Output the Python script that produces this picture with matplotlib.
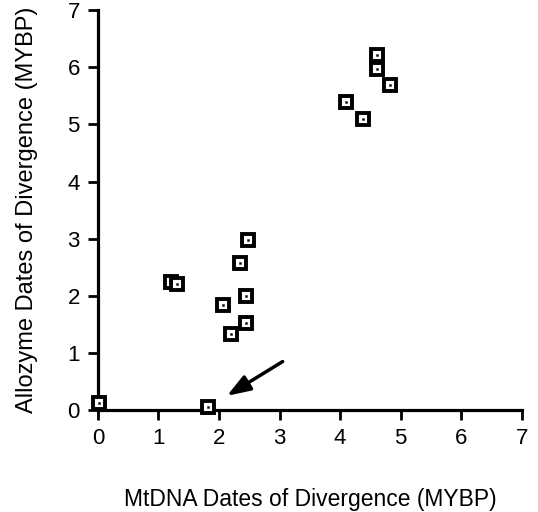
import matplotlib
matplotlib.use("Agg")
import matplotlib.pyplot as plt

plt.rcParams['font.family'] = ['Liberation Sans', 'DejaVu Sans']

mtdna = [0.02, 1.81, 1.21, 1.31, 2.06, 2.19, 2.34, 2.44, 2.45, 2.48, 4.10, 4.38, 4.61, 4.60, 4.83]
allozyme = [0.12, 0.06, 2.24, 2.21, 1.84, 1.34, 2.57, 2.00, 1.53, 2.97, 5.39, 5.10, 6.22, 5.97, 5.69]
ticks = [0, 1, 2, 3, 4, 5, 6, 7]
arrow_tail = (3.05, 0.85)
arrow_head = (2.13, 0.25)

fig = plt.figure(figsize=(5.38, 5.12), dpi=100)
ax = fig.add_axes([0.182, 0.199, 0.788, 0.781])

ax.plot(mtdna, allozyme, linestyle='none', marker='s', markersize=8,
        markerfacecolor='white', markeredgecolor='black', markeredgewidth=2.8,
        clip_on=False, zorder=3)
ax.plot(mtdna, allozyme, linestyle='none', marker='s', markersize=1.4,
        markerfacecolor='black', markeredgecolor='black', markeredgewidth=0.3,
        clip_on=False, zorder=4)

ax.annotate('', xy=arrow_head, xytext=arrow_tail,
            arrowprops=dict(arrowstyle='-|>,head_length=1.4,head_width=0.5',
                            color='black', lw=2.5, shrinkA=0, shrinkB=0))

ax.set_xlim(0, 7)
ax.set_ylim(0, 7)
ax.set_xticks(ticks)
ax.set_yticks(ticks)
for s in ['top', 'right']:
    ax.spines[s].set_visible(False)
for s in ['left', 'bottom']:
    ax.spines[s].set_linewidth(2.3)
ax.tick_params(axis='both', direction='out', length=7, width=2, labelsize=16, pad=6)
ax.set_xlabel('MtDNA Dates of Divergence (MYBP)', fontsize=16.5, labelpad=28)
ax.set_ylabel('Allozyme Dates of Divergence (MYBP)', fontsize=17, labelpad=21)

fig.savefig('out.png', dpi=100)
